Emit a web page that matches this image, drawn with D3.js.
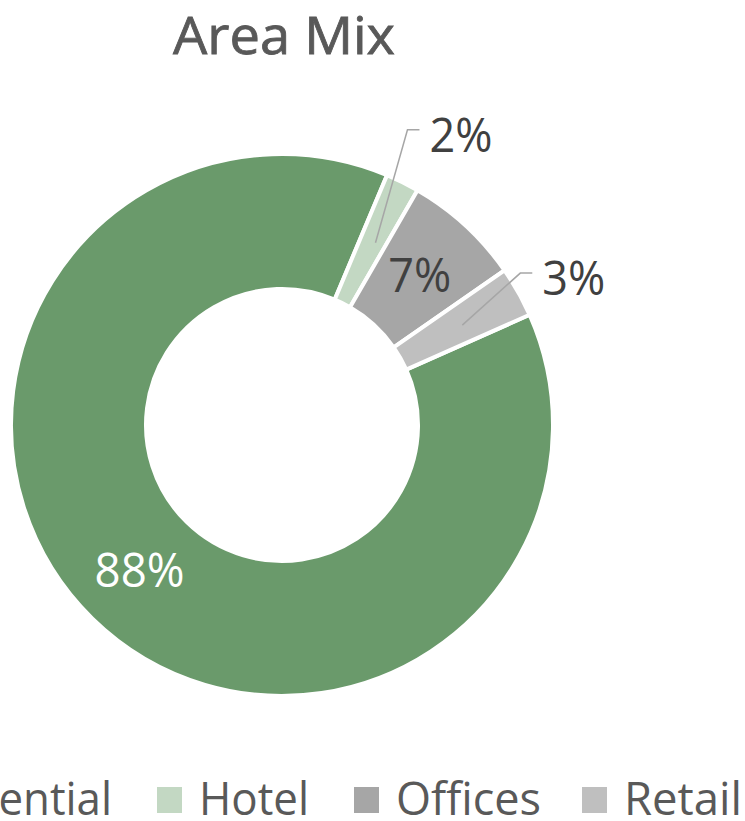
<!DOCTYPE html>
<html>
<head>
<meta charset="utf-8">
<script src="https://cdn.jsdelivr.net/npm/d3@7"></script>
<style>
  html, body { margin: 0; padding: 0; background: #fff; overflow: hidden; }
  svg { display: block; }
</style>
</head>
<body>
<svg id="chart" width="745" height="821"></svg>
<script>
// ---- data ----
const categories = ["Residential", "Hotel", "Offices", "Retail"];
const values = [88, 2, 7, 3];
const labels = ["88%", "2%", "7%", "3%"];
const colors = ["#6A9A6B", "#C3D8C3", "#A6A6A6", "#BFBFBF"];
const title = "Area Mix";

// ---- layout ----
const W = 745, H = 821;
const cx = 282, cy = 425, outerR = 271, innerR = 136;
const firstSliceDeg = 66;
const FONT = "'Open Sans', 'DejaVu Sans', sans-serif";
// label placement: null = on centroid; otherwise offset [dx, dy] of label start from centroid
const labelPlacement = [null, [57, -91], null, [83, -30]];
const labelWidths = [90, 63, 63, 63];
const legendX = [-154, 157, 354, 582];
const legendTextW = [224, 110, 145, 118];

const svg = d3.select("#chart");

// title
svg.append("text")
  .attr("x", 173).attr("y", 54)
  .attr("font-family", FONT).attr("font-size", 51)
  .attr("fill", "#595959")
  .attr("stroke", "#595959").attr("stroke-width", 0.8)
  .attr("textLength", 222).attr("lengthAdjust", "spacingAndGlyphs")
  .text(title);

const data = categories.map((c, i) => ({ cat: c, value: values[i], label: labels[i], color: colors[i], idx: i }));

const start = firstSliceDeg * Math.PI / 180;
const pie = d3.pie().sort(null).value(d => d.value).startAngle(start).endAngle(start + 2 * Math.PI);
const arc = d3.arc().innerRadius(innerR).outerRadius(outerR);
const arcs = pie(data);

const g = svg.append("g").attr("transform", `translate(${cx},${cy})`);

g.selectAll("path.slice").data(arcs).enter().append("path")
  .attr("class", "slice")
  .attr("d", arc)
  .attr("fill", d => d.data.color)
  .attr("stroke", "#fff")
  .attr("stroke-width", 4)
  .attr("stroke-linejoin", "miter");

// labels
arcs.forEach(a => {
  const i = a.data.idx;
  const [px, py] = arc.centroid(a);
  const capH = 34;
  const place = labelPlacement[i];
  if (!place) {
    g.append("text")
      .attr("x", px).attr("y", py + capH / 2)
      .attr("text-anchor", "middle")
      .attr("font-family", FONT).attr("font-size", 47)
      .attr("fill", i === 0 ? "#ffffff" : "#404040")
      .attr("textLength", labelWidths[i]).attr("lengthAdjust", "spacingAndGlyphs")
      .text(a.data.label);
  } else {
    const lx = px + place[0], ly = py + place[1];
    const midY = ly - 22;
    g.append("polyline")
      .attr("points", [[px + 3, py], [lx - 22, midY], [lx - 10, midY]].map(p => p.join(",")).join(" "))
      .attr("fill", "none")
      .attr("stroke", "#A6A6A6")
      .attr("stroke-width", 1.5);
    g.append("text")
      .attr("x", lx).attr("y", ly)
      .attr("font-family", FONT).attr("font-size", 47)
      .attr("fill", "#404040")
      .attr("textLength", labelWidths[i]).attr("lengthAdjust", "spacingAndGlyphs")
      .text(a.data.label);
  }
});

// legend
const leg = svg.append("g");
data.forEach((d, i) => {
  leg.append("rect")
    .attr("x", legendX[i]).attr("y", 787)
    .attr("width", 25).attr("height", 26)
    .attr("fill", d.color);
  leg.append("text")
    .attr("x", legendX[i] + 42).attr("y", 815)
    .attr("font-family", FONT).attr("font-size", 46)
    .attr("fill", "#595959")
    .attr("textLength", legendTextW[i]).attr("lengthAdjust", "spacingAndGlyphs")
    .text(d.cat);
});
</script>
</body>
</html>
